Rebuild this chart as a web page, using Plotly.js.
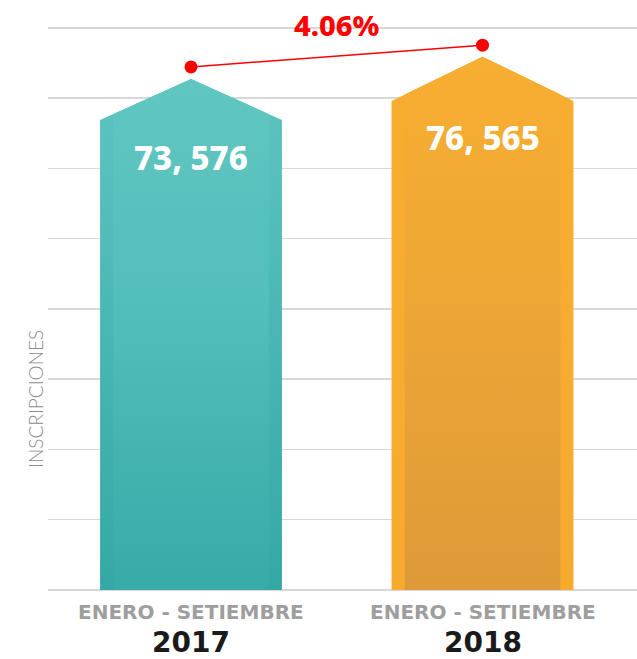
<!DOCTYPE html>
<html>
<head>
<meta charset="utf-8">
<script src="https://cdn.plot.ly/plotly-3.0.1.min.js"></script>
<style>html,body{margin:0;padding:0;background:#fff;}#chart{width:637px;height:659px;}</style>
</head>
<body>
<div id="chart"></div>
<script>
// ---- data ----
const periods = ['ENERO - SETIEMBRE', 'ENERO - SETIEMBRE'];
const years = ['2017', '2018'];
const values = [73576, 76565];
const valueLabels = ['73, 576', '76, 565'];
const peakValues = [80000, 83500];   // arrow tip heights
const trendValues = [81900, 85300];  // red trend marker heights
const changeLabel = '4.06%';

// ---- styles ----
const xPos = years.map((_, i) => i);
const halfW = 0.312;
const inset = 0.045;
const outerScales = [
  [[0, '#35a8a6'], [1, '#5ec5c0']],
  [[0, '#f6ab2e'], [1, '#f7ad30']]
];
const innerScales = [
  [[0, '#37aba8'], [0.6, '#56bfbb'], [1, '#60c6c1']],
  [[0, '#de9a39'], [0.7, '#f2a934'], [1, '#f8ae31']]
];

const traces = [];
xPos.forEach((c, i) => {
  const v = values[i], p = peakValues[i];
  traces.push({
    type: 'scatter', mode: 'lines', fill: 'toself',
    x: [c - halfW, c - halfW, c, c + halfW, c + halfW, c - halfW],
    y: [0, v, p, v, 0, 0],
    line: {width: 0, color: 'rgba(0,0,0,0)'},
    fillcolor: outerScales[i][1][1],
    fillgradient: {type: 'vertical', colorscale: outerScales[i], start: 0, stop: p},
    hoverinfo: 'skip', showlegend: false
  });
  const sh = v + (p - v) * inset / halfW;
  traces.push({
    type: 'scatter', mode: 'lines', fill: 'toself',
    x: [c - halfW + inset, c - halfW + inset, c, c + halfW - inset, c + halfW - inset, c - halfW + inset],
    y: [0, sh, p, sh, 0, 0],
    line: {width: 0, color: 'rgba(0,0,0,0)'},
    fillcolor: innerScales[i][2][1],
    fillgradient: {type: 'vertical', colorscale: innerScales[i], start: 0, stop: p},
    hoverinfo: 'skip', showlegend: false
  });
});
traces.push({
  type: 'scatter', mode: 'lines+markers',
  x: xPos, y: trendValues,
  line: {color: '#ff0000', width: 1.5},
  marker: {color: '#ff0000', size: 13},
  hoverinfo: 'skip', showlegend: false
});

const annotations = [];
xPos.forEach((c, i) => {
  annotations.push({
    x: c, y: values[i], xref: 'x', yref: 'y', yshift: -37,
    text: valueLabels[i], showarrow: false,
    font: {family: 'Noto Sans, sans-serif', size: 33, color: '#ffffff', weight: 800}
  });
  annotations.push({
    x: c, y: 0, xref: 'x', yref: 'paper', yshift: -22, yanchor: 'middle',
    text: '<b>' + periods[i] + '</b>', showarrow: false,
    font: {family: 'DejaVu Sans, sans-serif', size: 20, color: '#9e9e9e'}
  });
  annotations.push({
    x: c, y: 0, xref: 'x', yref: 'paper', yshift: -52, yanchor: 'middle',
    text: '<b>' + years[i] + '</b>', showarrow: false,
    font: {family: 'DejaVu Sans, sans-serif', size: 28, color: '#1a1a1a'}
  });
});
annotations.push({
  x: (xPos[0] + xPos[1]) / 2, y: 1, xref: 'x', yref: 'paper', yshift: 2, yanchor: 'middle',
  text: changeLabel, showarrow: false,
  font: {family: 'Noto Sans, sans-serif', size: 29, color: '#ff0000', weight: 800}
});
annotations.push({
  x: -0.044, y: 0.338, xref: 'paper', yref: 'paper', textangle: -90,
  text: 'INSCRIPCIONES', showarrow: false,
  font: {family: 'Lato, sans-serif', size: 19, color: '#8c8c8c', weight: 300}
});

const layout = {
  width: 637, height: 659,
  margin: {l: 48, r: 0, t: 26, b: 69},
  paper_bgcolor: '#ffffff', plot_bgcolor: '#ffffff',
  showlegend: false,
  xaxis: {range: [-0.4906, 1.530], showgrid: false, zeroline: false, showticklabels: false, fixedrange: true},
  yaxis: {range: [0, 88300], dtick: 11000, showgrid: true, gridcolor: '#d8d8d8', gridwidth: 1.5,
          zeroline: true, zerolinecolor: '#d8d8d8', zerolinewidth: 1.5, showticklabels: false, fixedrange: true},
  annotations: annotations
};

Plotly.newPlot('chart', traces, layout, {displayModeBar: false, staticPlot: true});
</script>
</body>
</html>
